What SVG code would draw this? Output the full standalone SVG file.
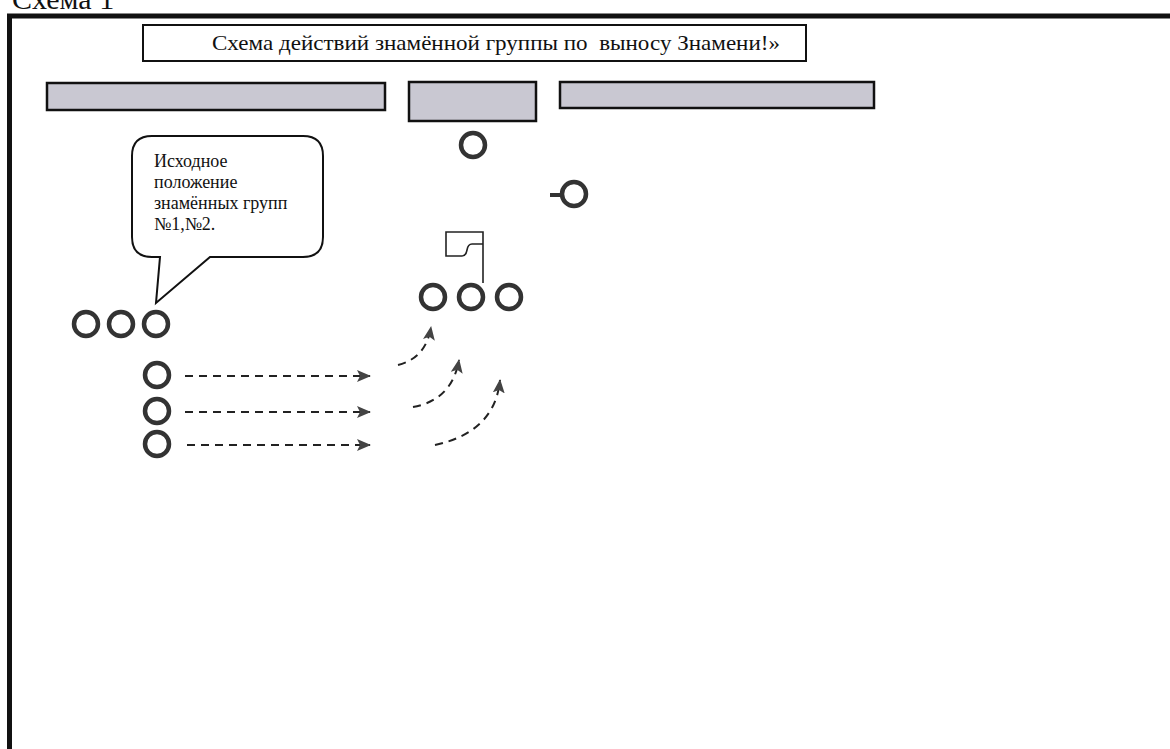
<svg xmlns="http://www.w3.org/2000/svg" width="1170" height="749" viewBox="0 0 1170 749">
<style>
.ring{fill:none;stroke:#333;stroke-width:4.5}
.bar{fill:#c9c8d2;stroke:#111;stroke-width:2.5}
.dash{fill:none;stroke:#222;stroke-width:2;stroke-dasharray:8 6}
.serif{font-family:"Liberation Serif","Times New Roman",serif;fill:#111}
</style>
<defs>
<marker id="ah" viewBox="0 0 14 12" refX="13" refY="6" markerWidth="14" markerHeight="12" markerUnits="userSpaceOnUse" orient="auto">
<path d="M0,0 L14,6 L0,12 L3,6 Z" fill="#444"/>
</marker>
</defs>
<rect width="1170" height="749" fill="#fff"/>
<text class="serif" x="12" y="9" font-size="30">Схема 1</text>
<rect x="9.5" y="16" width="1175" height="760" fill="none" stroke="#111" stroke-width="5"/>
<g id="title">
<rect x="143" y="25" width="663" height="36" fill="#fff" stroke="#111" stroke-width="2"/>
<text class="serif" x="212" y="50" font-size="22" textLength="568" lengthAdjust="spacingAndGlyphs" xml:space="preserve">Схема действий знамённой группы по  выносу Знамени!»</text>
</g>
<g id="bar-left"><rect class="bar" x="47" y="83" width="338" height="27"/></g>
<g id="bar-center"><rect class="bar" x="409" y="82" width="127" height="39"/></g>
<g id="bar-right"><rect class="bar" x="560" y="82" width="314" height="26"/></g>
<g id="callout">
<path d="M152,136 H303 Q323,136 323,156 V237 Q323,257 303,257 H210 L156,303 L160,257 H152 Q132,257 132,237 V156 Q132,136 152,136 Z" fill="#fff" stroke="#111" stroke-width="2"/>
<text class="serif" font-size="18"><tspan x="154" y="167">Исходное</tspan><tspan x="154" y="188">положение</tspan><tspan x="154" y="209">знамённых групп</tspan><tspan x="154" y="230">№1,№2.</tspan></text>
</g>
<g id="group-left">
<circle class="ring" cx="86" cy="324" r="12"/>
<circle class="ring" cx="121" cy="324" r="12"/>
<circle class="ring" cx="156" cy="324" r="12"/>
</g>
<g id="col-1"><circle class="ring" cx="157" cy="375" r="12"/></g>
<g id="col-2"><circle class="ring" cx="157" cy="411" r="12"/></g>
<g id="col-3"><circle class="ring" cx="157" cy="444" r="12"/></g>
<g id="center-top"><circle class="ring" cx="473" cy="145" r="12"/></g>
<g id="side-person">
<circle class="ring" cx="574" cy="194" r="12"/>
<line x1="550" y1="195" x2="561" y2="195" stroke="#333" stroke-width="4"/>
</g>
<g id="flag-group">
<path d="M483,283 V232 H446 V256 H462 Q466,256 467,250 Q468,244 472,244 H483" fill="none" stroke="#222" stroke-width="1.6"/>
<circle class="ring" cx="433" cy="297" r="12"/>
<circle class="ring" cx="471" cy="297" r="12"/>
<circle class="ring" cx="509" cy="297" r="12"/>
</g>
<g id="connectors">
<line class="dash" x1="185" y1="376" x2="370" y2="376" marker-end="url(#ah)"/>
<line class="dash" x1="185" y1="412" x2="370" y2="412" marker-end="url(#ah)"/>
<line class="dash" x1="187" y1="445" x2="370" y2="445" marker-end="url(#ah)"/>
<path class="dash" d="M398,365 Q426,358 431,327" marker-end="url(#ah)"/>
<path class="dash" d="M413,407 Q452,400 459,360" marker-end="url(#ah)"/>
<path class="dash" d="M435,445 Q495,432 500,380" marker-end="url(#ah)"/>
</g>
</svg>
